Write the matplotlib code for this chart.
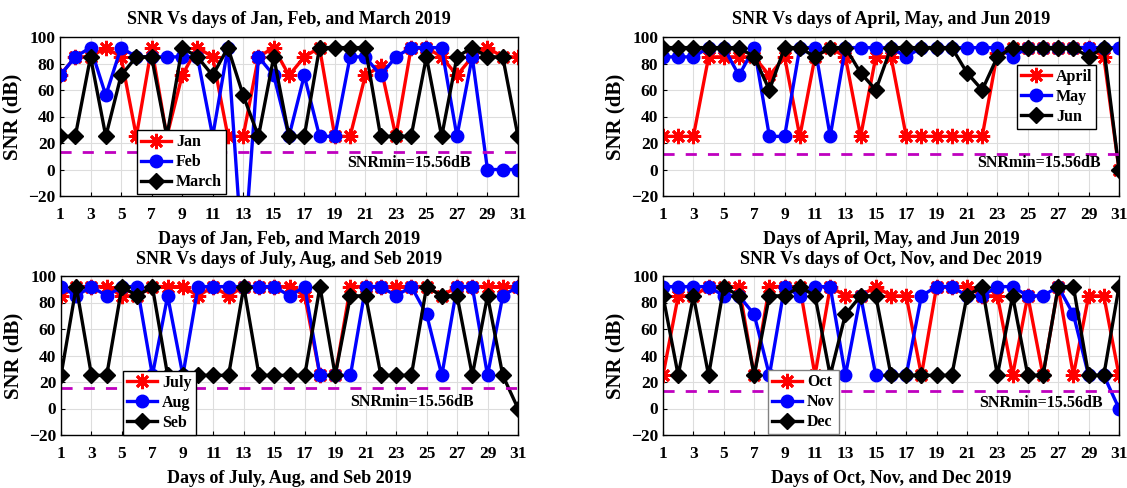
import matplotlib
matplotlib.use("Agg")
import matplotlib.pyplot as plt
import numpy as np

plt.rcParams['font.family'] = ['Liberation Serif', 'DejaVu Serif']
plt.rcParams['font.weight'] = 'bold'

days = np.arange(1, 32)

# Jan, Feb, March
jan = [71, 85, 85, 92, 85, 25, 92, 25, 71, 92, 85, 25, 25, 85, 92, 71,
       85, 92, 25, 25, 71, 78, 25, 92, 92, 85, 71, 85, 92, 85, 85]
feb = [71, 85, 92, 56, 92, 85, 85, 85, 85, 85, 25, 92, -75, 85, 71, 25,
       71, 25, 25, 85, 85, 71, 85, 92, 92, 92, 25, 85, 0, 0, 0]
mar = [25, 25, 85, 25, 71, 85, 85, 25, 92, 85, 71, 92, 56, 25, 85, 25,
       25, 92, 92, 92, 92, 25, 25, 25, 85, 25, 85, 92, 85, 85, 25]

# April, May, Jun
apr = [25, 25, 25, 85, 85, 85, 85, 71, 85, 25, 85, 92, 85, 25, 85, 85,
       25, 25, 25, 25, 25, 25, 88, 92, 92, 92, 92, 92, 92, 85, 0]
may = [85, 85, 85, 92, 92, 71, 92, 25, 25, 92, 92, 25, 92, 92, 92, 92,
       85, 92, 92, 92, 92, 92, 92, 85, 92, 92, 92, 92, 92, 92, 92]
jun = [92, 92, 92, 92, 92, 92, 85, 60, 92, 92, 85, 92, 92, 73, 60, 92,
       92, 92, 92, 92, 73, 60, 85, 92, 92, 92, 92, 92, 85, 92, 0]

# July, Aug, Seb
jul = [85, 92, 92, 92, 85, 85, 92, 92, 92, 85, 92, 85, 92, 92, 92, 92,
       85, 25, 25, 92, 92, 92, 92, 92, 92, 85, 92, 92, 92, 92, 92]
aug = [92, 85, 92, 85, 92, 92, 25, 85, 25, 92, 92, 92, 92, 92, 92, 85,
       92, 25, 25, 25, 92, 92, 85, 92, 71, 25, 92, 92, 25, 85, 92]
seb = [25, 92, 25, 25, 92, 85, 92, 25, 25, 25, 25, 25, 92, 25, 25, 25,
       25, 92, 25, 85, 85, 25, 25, 25, 92, 85, 85, 25, 85, 25, 0]

# Oct, Nov, Dec
octo = [25, 85, 85, 92, 92, 92, 25, 92, 92, 92, 25, 92, 85, 85, 92, 85,
        85, 25, 92, 92, 92, 85, 85, 25, 85, 25, 92, 25, 85, 85, 25]
nov = [92, 92, 92, 92, 85, 85, 71, 25, 92, 85, 92, 92, 25, 85, 25, 25,
       25, 85, 92, 92, 85, 85, 92, 92, 85, 85, 92, 71, 25, 25, 0]
dec = [85, 25, 85, 25, 92, 85, 25, 85, 85, 92, 85, 25, 71, 85, 85, 25,
       25, 25, 25, 25, 85, 92, 25, 85, 25, 25, 92, 92, 25, 25, 92]

snr_min_line = [13.5, 11.6, 15.6, 13.5]

panels = [
    ("SNR Vs days of Jan, Feb, and March 2019", "Days of Jan, Feb, and March 2019",
     [("Jan", jan), ("Feb", feb), ("March", mar)]),
    ("SNR Vs days of April, May, and Jun 2019", "Days of April, May, and Jun 2019",
     [("April", apr), ("May", may), ("Jun", jun)]),
    ("SNR Vs days of July, Aug, and Seb 2019", "Days of July, Aug, and Seb 2019",
     [("July", jul), ("Aug", aug), ("Seb", seb)]),
    ("SNR Vs days of Oct, Nov, and Dec 2019", "Days of Oct, Nov, and Dec 2019",
     [("Oct", octo), ("Nov", nov), ("Dec", dec)]),
]

# matlab-like asterisk, circle, diamond
styles = [dict(color='#FF0000', marker=(8, 2, 0), markersize=11, markeredgewidth=2),
          dict(color='#0000FF', marker='o', markersize=9),
          dict(color='black', marker='D', markersize=8)]

W, H = 1127, 488
boxes = [(60, 37, 518, 196), (663, 37, 1119, 196),
         (61, 276, 518, 435), (663, 276, 1119, 435)]
legend_pos = [('lower left', (0.168, 0.01)), ('upper left', (0.776, 0.824)),
              ('lower left', (0.136, 0.0)), ('lower left', (0.23, 0.005))]
text_pos = [(19.8, 5), (21.7, 5), (20.0, 5), (21.8, 4)]
legend_edge = ['black', 'black', 'black', 'gray']

fig = plt.figure(figsize=(W / 100, H / 100), dpi=100)

for i, (title, xlabel, series) in enumerate(panels):
    x0, y0, x1, y1 = boxes[i]
    ax = fig.add_axes([x0 / W, 1 - y1 / H, (x1 - x0) / W, (y1 - y0) / H])
    for (name, vals), st in zip(series, styles):
        ax.plot(days, vals, linewidth=2.4, label=name, **st)
    ax.axhline(snr_min_line[i], color='#BF00BF', linestyle='--', linewidth=2,
               dashes=(4, 4))
    ax.text(text_pos[i][0], text_pos[i][1], "SNRmin=15.56dB", fontsize=11.5,
            fontweight='bold', va='center', ha='left')
    ax.set_xlim(1, 31)
    ax.set_ylim(-20, 100)
    ax.set_xticks(np.arange(1, 32, 2))
    ax.set_yticks(np.arange(-20, 101, 20))
    ax.tick_params(labelsize=12.5, direction='in', length=3)
    ax.tick_params(axis='x', pad=8)
    for lab in ax.get_xticklabels() + ax.get_yticklabels():
        lab.set_fontweight('bold')
    ax.grid(True, color='#DDDDDD', linewidth=0.8)
    ax.set_axisbelow(True)
    ax.set_title(title, fontsize=13, fontweight='bold', pad=9)
    ax.set_xlabel(xlabel, fontsize=13, fontweight='bold', labelpad=6)
    ax.set_ylabel("SNR (dB)", fontsize=15, fontweight='bold', labelpad=4)
    loc, anchor = legend_pos[i]
    leg = ax.legend(loc=loc, bbox_to_anchor=anchor, fontsize=11.5, frameon=True,
                    fancybox=False, framealpha=1, borderpad=0.25,
                    borderaxespad=0, labelspacing=0.25, handlelength=1.9,
                    handletextpad=0.3)
    leg.get_frame().set_edgecolor(legend_edge[i])
    leg.get_frame().set_linewidth(1)
    for t in leg.get_texts():
        t.set_fontweight('bold')
    for s in ax.spines.values():
        s.set_linewidth(1)

fig.savefig("out.png", dpi=100)
